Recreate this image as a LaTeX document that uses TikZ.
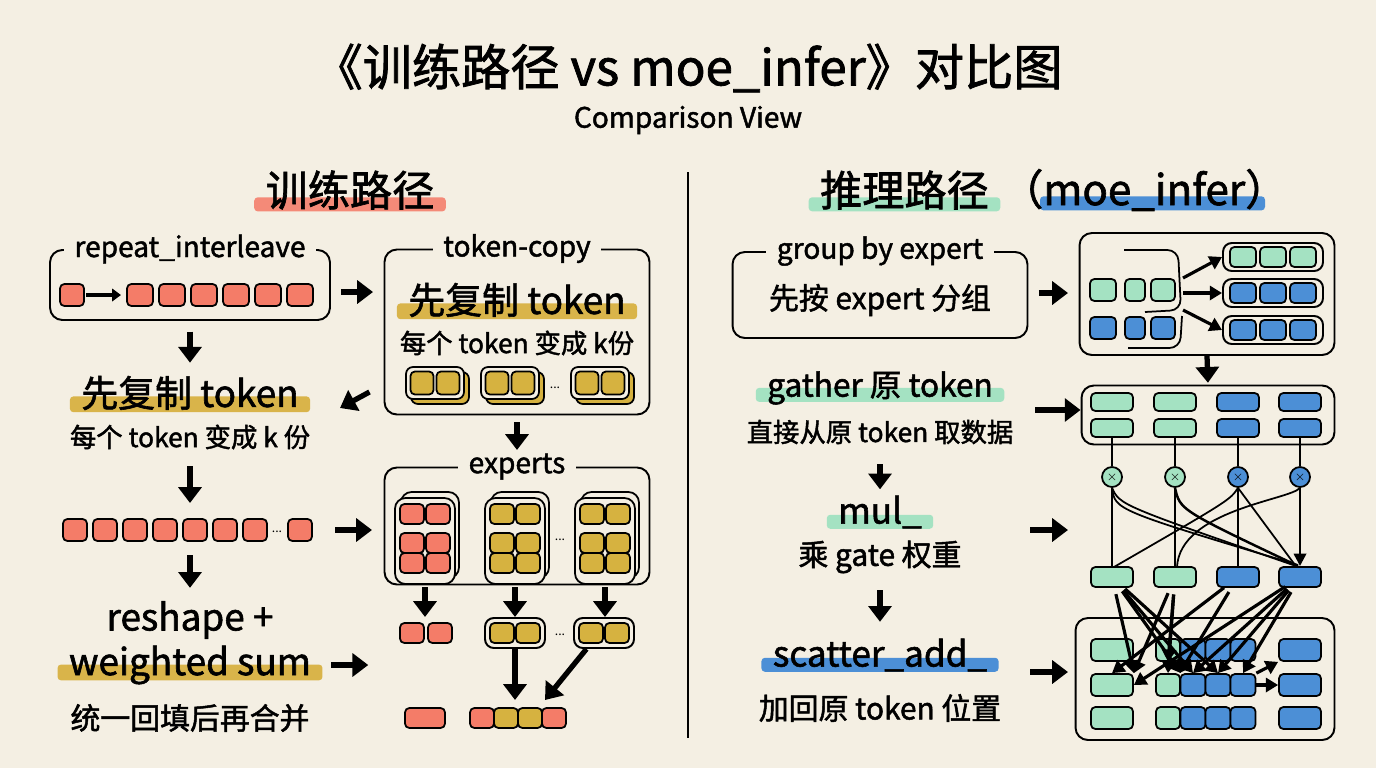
\documentclass[tikz,border=0pt]{standalone}
\usepackage{fontspec}
\setmainfont{Noto Sans CJK SC}[AutoFakeBold=1.6]
\usetikzlibrary{arrows.meta,positioning,calc,backgrounds}
\pgfdeclarelayer{hl}
\pgfsetlayers{background,hl,main}
\definecolor{bg}{HTML}{F4EFE3}
\definecolor{tred}{HTML}{F47C68}
\definecolor{tgold}{HTML}{D6B240}
\definecolor{hgold}{HTML}{D9B44A}
\definecolor{hred}{HTML}{F48A78}
\definecolor{tgreen}{HTML}{A4E2C2}
\definecolor{tblue}{HTML}{4C8FD6}
\tikzset{
frame/.style={
  rectangle,
  draw,
  line width=1.1pt,
  rounded corners=7pt},
ftitle/.style={fill=bg, inner xsep=6pt, font=\fontsize{16}{19}\selectfont\bfseries},
big/.style={font=\fontsize{21}{24}\selectfont\bfseries},
sub/.style={font=\fontsize{15}{18}\selectfont\bfseries},
arr/.style={draw, line width=3pt, -{Triangle[length=9pt,width=13pt]}},
thin/.style={draw, line width=1pt},
tarr/.style={draw, line width=1.8pt, -{Triangle[length=7pt,width=8pt]}}
}
% one token cell: x, y, width, height, colour
\newcommand\cell[5]{\filldraw[fill=#5, draw=black, line width=1pt, rounded corners=2.5pt]
  ($(#1,#2)-(#3/2,#4/2)$) rectangle ++(#3,#4);}
% highlight bar under a text node
\newcommand\hlbar[3]{\begin{pgfonlayer}{hl}
  \fill[#2, rounded corners=2pt] ([xshift=-3pt,yshift=-3pt]#1.base west) rectangle ([xshift=3pt,yshift=#3]#1.base east);
  \end{pgfonlayer}}

\begin{document}
\begin{tikzpicture}[x=0.02cm, y=-0.02cm]
\begin{pgfonlayer}{background}
  \fill[bg] (0,0) rectangle (1376,768);
\end{pgfonlayer}
\useasboundingbox (0,0) rectangle (1376,768);

% titles
\node[font=\fontsize{28}{32}\selectfont\bfseries] (title) at (688,68) {《训练路径 vs moe\_infer》对比图};
\node[font=\fontsize{16}{19}\selectfont\bfseries] (subtitle) at (688,120) {Comparison View};
\draw[line width=1.2pt] (688,172) -- (688,738);
\node[font=\fontsize{24}{28}\selectfont\bfseries] (lhead) at (350,190) {训练路径};
\hlbar{lhead}{hred}{5pt}
\node[font=\fontsize{24}{28}\selectfont\bfseries, anchor=east] (rhead1) at (995,190) {推理路径};
\node[font=\fontsize{24}{28}\selectfont\bfseries, anchor=west] (rhead2) at (995,190) {（moe\_infer）};
\hlbar{rhead1}{tgreen}{5pt}
\begin{pgfonlayer}{hl}
  \fill[tblue, rounded corners=2pt] ([yshift=-3pt]rhead2.base west -| 1040,0) rectangle ([yshift=5pt]rhead2.base east -| 1265,0);
\end{pgfonlayer}

% ---------- training path ----------
\node[frame, minimum width=5.6cm, minimum height=1.4cm] (rep) at (190,285) {};
\node[ftitle] at (rep.north) {repeat\_interleave};
\cell{72}{295}{24}{22}{tred}
\draw[line width=2pt, -{Triangle[length=5pt,width=7pt]}] (86,295) -- (121,295);
\foreach \x in {140,172,204,236,268,300} {\cell{\x}{295}{26}{22}{tred}}

\node[frame, minimum width=5.3cm, minimum height=3.3cm] (copy) at (517,332) {};
\node[ftitle] at (copy.north) {token-copy};
\node[big] (copyt) at (517,300) {先复制 token};
\hlbar{copyt}{hgold}{6pt}
\node[sub] (copys) at (517,343) {每个 token 变成 k份};
\foreach \x in {435,510,600} {
  \filldraw[fill=tgold, line width=1pt, rounded corners=4pt] (\x-24,372) rectangle (\x+34,404);
  \filldraw[fill=bg, line width=1pt, rounded corners=4pt] (\x-29,367) rectangle (\x+29,399);
  \cell{\x-13}{383}{23}{23}{tgold}
  \cell{\x+13}{383}{23}{23}{tgold}
}
\node at (555,388) {\scriptsize ...};

\draw[arr, shorten <=6pt, shorten >=6pt] (rep.east |- 0,292) -- (copy.west |- 0,292);

\node[big] (dup) at (190,393) {先复制 token};
\hlbar{dup}{hgold}{6pt}
\node[sub] (dups) at (190,437) {每个 token 变成 k 份};
\draw[arr, shorten <=6pt, shorten >=4pt] (rep.south) -- (dup.north);
\coordinate (dupin) at (340,408);
\draw[arr] ([yshift=-1.2cm, xshift=-8pt]copy.west) -- (dupin);

\coordinate (row) at (190,503);
\draw[arr, shorten <=6pt] (dups.south) -- (row);
\foreach \x in {75,105,135,165,195,225,255,300} {\cell{\x}{530}{24}{22}{tred}}
\node at (277,532) {\scriptsize ...};

\node[frame, minimum width=5.3cm, minimum height=2.34cm] (exp) at (517,526) {};
\node[ftitle] at (exp.north) {experts};
\coordinate (expin) at (517,450);
\draw[arr, shorten <=4pt] (copy.south) -- (expin);
\draw[arr] (335,530) -- (372,530);
\foreach \x/\c in {425/tred,515/tgold,605/tgold} {
  \draw[line width=1pt, rounded corners=6pt, fill=bg] (\x-24,492) rectangle (\x+34,578);
  \filldraw[fill=bg, line width=1pt, rounded corners=6pt] (\x-30,498) rectangle (\x+30,584);
  \foreach \yy in {514,543,563} {
    \cell{\x-13}{\yy}{24}{20}{\c}
    \cell{\x+13}{\yy}{24}{20}{\c}
  }
  \draw[arr] (\x,587) -- (\x,617);
}
\node at (560,540) {\scriptsize ...};

\cell{412}{633}{24}{20}{tred}
\cell{440}{633}{24}{20}{tred}
\node[frame, rounded corners=5pt, minimum width=1.2cm, minimum height=0.6cm] (pairA) at (515,633) {};
\node[frame, rounded corners=5pt, minimum width=1.2cm, minimum height=0.6cm] (pairB) at (604,633) {};
\foreach \x in {502,528,591,617} {\cell{\x}{633}{24}{20}{tgold}}
\node at (560,635) {\scriptsize ...};

\coordinate (mergeA) at (515,700);
\coordinate (mergeB) at (545,700);
\draw[arr] (pairA.south) -- (mergeA);
\draw[arr] ([xshift=-10pt]pairB.south) -- (mergeB);
\cell{425}{718}{40}{20}{tred}
\foreach \x/\c in {482/tred,506/tgold,530/tgold,554/tred} {\cell{\x}{718}{24}{20}{\c}}

\node[big] (resh) at (190,620) {reshape +};
\node[big] (wsum) at (190,665) {weighted sum};
\hlbar{wsum}{hgold}{6pt}
\node[font=\fontsize{17}{20}\selectfont\bfseries] (fill) at (190,718) {统一回填后再合并};
\coordinate (rowb) at (190,555);
\draw[arr, shorten >=4pt] (rowb) -- (resh.north);
\draw[arr] ([xshift=8pt]wsum.east) -- ++(37,0);

% ---------- inference path ----------
\node[frame, minimum width=5.9cm, minimum height=1.72cm] (grp) at (880,295) {};
\node[ftitle] at (grp.north) {group by expert};
\node[font=\fontsize{17}{20}\selectfont\bfseries] (grpt) at (880,300) {先按 expert 分组};

\node[frame, minimum width=5.1cm, minimum height=2.44cm] (sort) at (1207,294) {};
\draw[arr, shorten <=6pt, shorten >=6pt] (grp.east |- 0,293) -- (sort.west |- 0,293);
\foreach \x/\w in {1103/26,1135/20,1163/24} {\cell{\x}{290}{\w}{22}{tgreen} \cell{\x}{328}{\w}{22}{tblue}}
\draw[line width=1pt, rounded corners=6pt] (1124,250) -- (1178,250) -- (1181,310) -- (1145,312);
\draw[line width=1pt, rounded corners=6pt] (1128,348) -- (1180,348) -- (1182,316);
\foreach \y/\c [count=\i] in {257/tgreen,293/tblue,330/tblue} {
  \node[frame, rounded corners=5pt, minimum width=2cm, minimum height=0.56cm] (grow\i) at (1273,\y) {};
  \foreach \x in {1243,1273,1303} {\cell{\x}{\y}{26}{20}{\c}}
}
\draw[tarr] (1183,278) -- (grow1.west);
\draw[tarr] (1183,293) -- (grow2.west);
\draw[tarr] (1183,310) -- (grow3.west);

\node[frame, minimum width=5.06cm, minimum height=1.18cm] (gath) at (1208,415) {};
\draw[arr, shorten >=1pt] (sort.south) -- (gath.north);
\node[font=\fontsize{18}{21}\selectfont\bfseries] (gt) at (880,388) {gather 原 token};
\hlbar{gt}{tgreen}{5pt}
\node[sub] (gs) at (880,432) {直接从原 token 取数据};
\draw[arr] (1035,410) -- (gath.west |- 0,410);

\foreach \x/\c [count=\i] in {1112/tgreen,1175/tgreen,1238/tblue,1300/tblue} {
  \cell{\x}{402}{42}{18}{\c}
  \cell{\x}{428}{42}{18}{\c}
  \node[circle, draw, line width=1pt, fill=\c, minimum size=0.4cm, inner sep=0pt, font=\scriptsize] (c\i) at (\x,477) {$\times$};
  \draw[thin] (\x,437) -- (c\i.north);
  \filldraw[fill=\c, draw=black, line width=1pt, rounded corners=2.5pt] (\x-21,567) rectangle (\x+21,587);
  \coordinate (m\i) at (\x,577);
}
\draw[thin] (c1.south) -- (1112,567);
\draw[thin] (c2.south) -- (1175,567);
\draw[thin] (c3.south) -- (1238,567);
\draw[line width=1.4pt, -{Triangle[length=7pt,width=7pt]}] (c4.south) -- (1300,566);
\draw[thin] (c1.south) .. controls (1115,510) .. (1298,565);
\draw[thin] (c1.south) .. controls (1120,505) .. (1296,566);
\draw[line width=1.4pt] (c2.south) .. controls (1180,510) .. (1298,566);
\draw[thin] (c3.south) -- (1295,565);
\draw[thin] (c3.south) .. controls (1230,500) .. (1114,567);
\draw[thin] (c4.south) .. controls (1290,500) and (1180,510) .. (1177,567);

\node[font=\fontsize{20}{23}\selectfont\bfseries] (mt) at (880,512) {mul\_};
\hlbar{mt}{tgreen}{5pt}
\node[font=\fontsize{17}{20}\selectfont\bfseries] (ms) at (880,557) {乘 gate 权重};
\draw[arr, shorten <=8pt] (gs.south) -- (mt.north);
\draw[arr] (1030,530) -- (1068,530);

\node[frame, minimum width=5.18cm, minimum height=2.44cm] (outb) at (1205,679) {};
\foreach \y [count=\r] in {650,685,718} {
  \node[draw, line width=1pt, rounded corners=2.5pt, fill=tgreen, minimum width=0.84cm, minimum height=0.44cm, inner sep=0pt] (L\r) at (1112,\y) {};
  \node[draw, line width=1pt, rounded corners=2.5pt, fill=tgreen, minimum width=0.48cm, minimum height=0.44cm, inner sep=0pt] (g\r) at (1168,\y) {};
  \foreach \x/\k in {1193/1,1218/2,1243/3} {
    \node[draw, line width=1pt, rounded corners=2.5pt, fill=tblue, minimum width=0.5cm, minimum height=0.44cm, inner sep=0pt] (b\k\r) at (\x,\y) {};
  }
  \node[draw, line width=1pt, rounded corners=2.5pt, fill=tblue, minimum width=0.84cm, minimum height=0.44cm, inner sep=0pt] (R\r) at (1300,\y) {};
}
\foreach \s/\t in {m1/L2.north east, m1/b12.north, m1/b22.north, m1/g2.north east,
                   m2/L2.north east, m2/g1.south, m2/g2.north,
                   m3/L2.north, m3/b12.north west,
                   m4/b12.north, m4/b22.north, m4/b32.north, m4/L2.east} {
  \draw[tarr, shorten <=10pt] (\s) -- (\t);
}
\draw[tarr] (b32.east) -- (R2.west);
\draw[tarr] (b32.north east) -- (R1.south west);

\node[font=\fontsize{20}{23}\selectfont\bfseries] (st) at (880,655) {scatter\_add\_};
\hlbar{st}{tblue}{5pt}
\node[font=\fontsize{17}{20}\selectfont\bfseries] (ss) at (880,708) {加回原 token 位置};
\draw[arr, shorten <=6pt, shorten >=6pt] (ms.south) -- (st.north);
\draw[arr] (1030,672) -- (1068,672);
\end{tikzpicture}
\end{document}
